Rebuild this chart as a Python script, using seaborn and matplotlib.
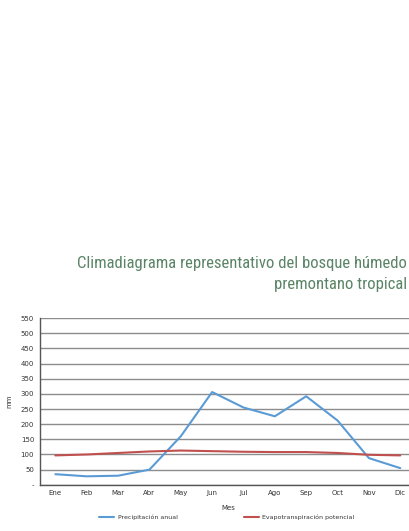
import numpy as np
import pandas as pd
import matplotlib
matplotlib.use('Agg')
import matplotlib.pyplot as plt
from matplotlib import font_manager
import seaborn as sns

meses = ['Ene', 'Feb', 'Mar', 'Abr', 'May', 'Jun', 'Jul', 'Ago', 'Sep', 'Oct', 'Nov', 'Dic']
precipitacion = [35, 28, 30, 50, 160, 306, 255, 226, 292, 212, 88, 55]
evapotranspiracion = [97, 100, 105, 110, 113, 111, 109, 108, 108, 105, 99, 97]
yticks = [0, 50, 100, 150, 200, 250, 300, 350, 400, 450, 500, 550]
ytick_labels = ['-'] + [str(v) for v in yticks[1:]]

serie_p = 'Precipitación anual'
serie_e = 'Evapotranspiración potencial'
df = pd.DataFrame({
    'Mes': meses * 2,
    'x': list(range(12)) * 2,
    'mm': precipitacion + evapotranspiracion,
    'serie': [serie_p] * 12 + [serie_e] * 12,
})

sns.set_style('white')
plt.rcParams['font.family'] = ['DejaVu Sans']

# condensed font for the title if one is installed
nombres = {f.name for f in font_manager.fontManager.ttflist}
condensadas = [n for n in ['Roboto Condensed', 'Liberation Sans Narrow',
                           'Open Sans Condensed', 'DejaVu Sans Condensed'] if n in nombres]
if condensadas:
    titulo_font = dict(family=[condensadas[0], 'DejaVu Sans'], fontsize=12)
else:
    titulo_font = dict(family=['DejaVu Sans'], stretch='condensed', fontsize=10)

fig = plt.figure(figsize=(4.09, 5.31), dpi=100)
ax = fig.add_axes([0.097, 0.087, 0.92, 0.314])

ax.set_yticks(yticks)
ax.yaxis.grid(True, color='#8c8c8c', linewidth=1.0)
ax.set_axisbelow(True)

sns.lineplot(data=df, x='x', y='mm', hue='serie', ax=ax,
             palette={serie_p: '#5b9bd5', serie_e: '#c0504d'},
             linewidth=1.5, legend=False)

ax.set_xlim(-0.5, 11.5)
ax.set_ylim(0, 550)
ax.set_xticks(range(12))
ax.set_xticklabels(meses)
ax.set_yticklabels(ytick_labels)
ax.tick_params(labelsize=5, colors='#333333', length=0, pad=4)
ax.set_xlabel('Mes', fontsize=5, color='#333333', labelpad=6)
ax.set_ylabel('mm', fontsize=5, color='#333333', labelpad=6)

for s in ['top', 'right']:
    ax.spines[s].set_visible(False)
for s in ['left', 'bottom']:
    ax.spines[s].set_color('#555555')
    ax.spines[s].set_linewidth(1.0)

handles = [plt.Line2D([], [], color='#5b9bd5', lw=1.5),
           plt.Line2D([], [], color='#c0504d', lw=1.5)]
fig.legend(handles, [serie_p, serie_e], loc='center', bbox_to_anchor=(0.555, 0.025),
           ncol=2, frameon=False, fontsize=4.5, handlelength=2.4, handletextpad=0.6,
           columnspacing=10.5, labelcolor='#333333')

fig.text(0.995, 0.484, 'Climadiagrama representativo del bosque húmedo\npremontano tropical',
         ha='right', va='center', color='#5a8466', linespacing=1.5, **titulo_font)

fig.savefig('out.png', dpi=100, facecolor='white')
